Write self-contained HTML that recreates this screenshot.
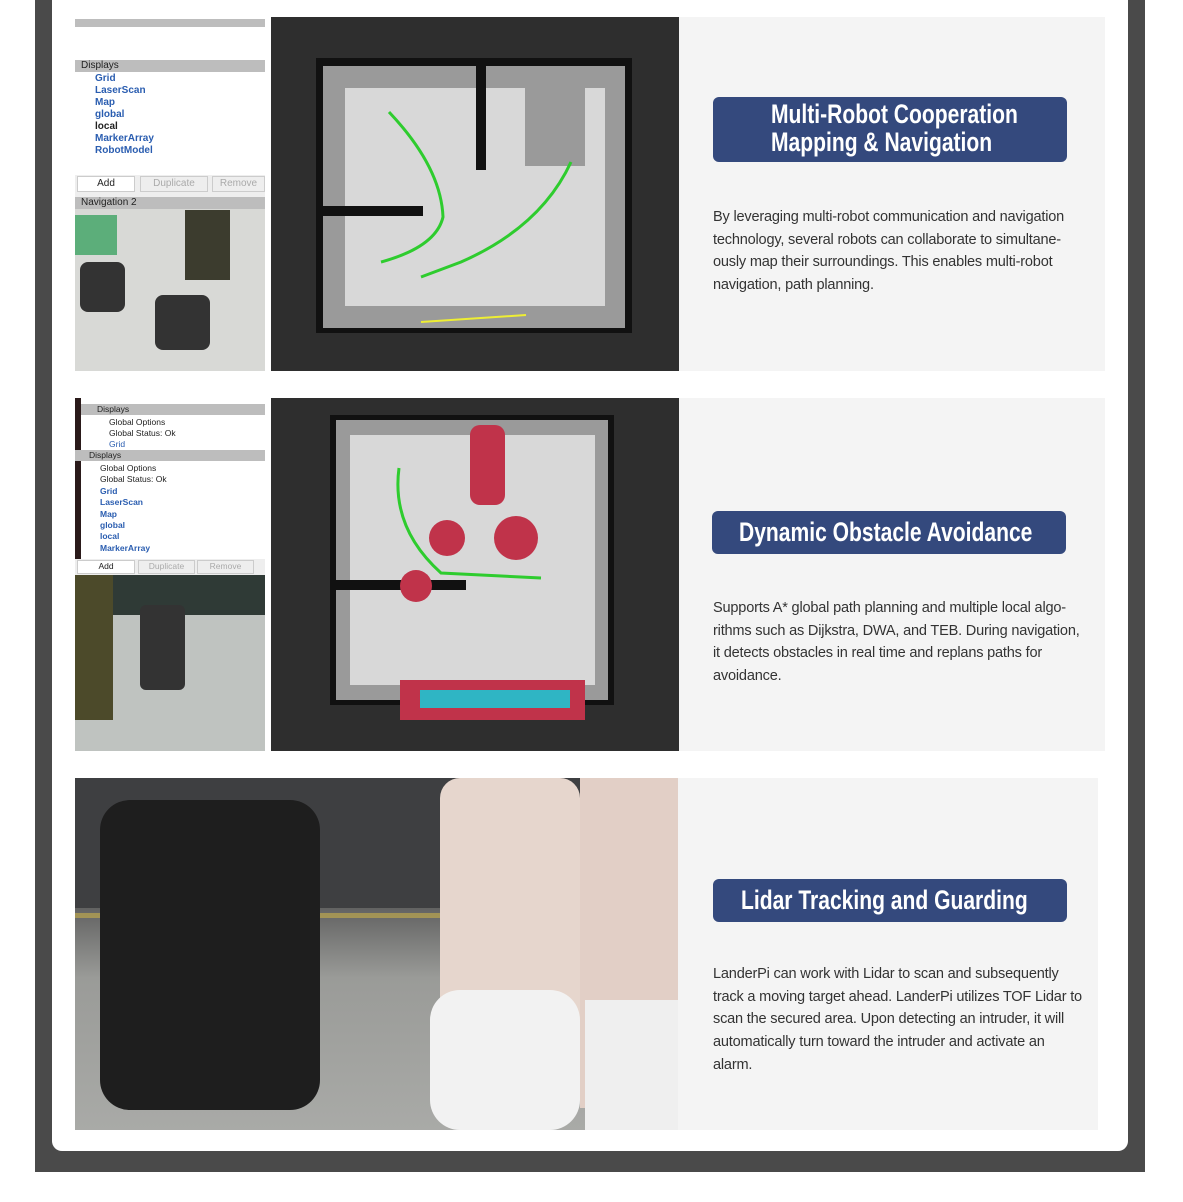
<!DOCTYPE html>
<html><head><meta charset="utf-8"><style>
body{margin:0;width:1183px;height:1202px;background:#fff;position:relative;overflow:hidden;font-family:"Liberation Sans",sans-serif}
.a{position:absolute}
.frame{left:35px;top:0;width:1110px;height:1172px;background:#4a4a4a}
.card{left:52px;top:0;width:1076px;height:1151px;background:#fff;border-radius:0 0 10px 10px}
.panel{background:#f4f4f4}
.title{background:#34497d;border-radius:6px;color:#fff;font-weight:bold;font-size:27px;line-height:28px;white-space:nowrap}
.t{position:absolute;transform:scaleX(0.78);transform-origin:left top}
.txt{color:#333;font-size:15px;line-height:22.7px;white-space:nowrap;transform:scaleX(0.97);transform-origin:left top;letter-spacing:-0.2px}
.map{background:#2e2e2e}
.ui{background:#fff;font-size:10px;color:#2a5db0;font-weight:bold}
.bar{background:#bdbdbd;color:#222;font-weight:normal}
</style></head><body>
<div class="a frame"></div>
<div class="a card"></div>

<!-- Row 1 -->
<div class="a ui" style="left:75px;top:17px;width:190px;height:180px">
 <div class="a bar" style="left:0;top:2px;width:190px;height:8px"></div>
 <div class="a bar" style="left:0;top:43px;width:190px;height:12px;font-size:10px;padding-left:6px;line-height:12px;box-sizing:border-box">Displays</div>
 <div class="a" style="left:20px;top:56px;line-height:12px">Grid<br>LaserScan<br>Map<br>global<br><span style="color:#222">local</span><br>MarkerArray<br>RobotModel</div>
 <div class="a" style="left:0;top:158px;width:190px;height:22px;background:#eee;font-weight:normal;color:#222;font-size:10px">
  <div class="a" style="left:2px;top:1px;width:56px;height:14px;background:#fff;border:1px solid #ccc;text-align:center;line-height:14px">Add</div>
  <div class="a" style="left:65px;top:1px;width:66px;height:14px;border:1px solid #ccc;text-align:center;line-height:14px;color:#aaa">Duplicate</div>
  <div class="a" style="left:137px;top:1px;width:51px;height:14px;border:1px solid #ccc;text-align:center;line-height:14px;color:#aaa;overflow:hidden">Remove</div>
 </div>
</div>
<div class="a bar" style="left:75px;top:197px;width:190px;height:12px;font-size:10px;line-height:12px;padding-left:6px;box-sizing:border-box">Navigation 2</div>
<div class="a" style="left:75px;top:209px;width:190px;height:162px;background:#d8d9d6"></div>
<div class="a" style="left:75px;top:215px;width:42px;height:40px;background:#5cae7a"></div>
<div class="a" style="left:185px;top:210px;width:45px;height:70px;background:#3c3c2e"></div>
<div class="a" style="left:80px;top:262px;width:45px;height:50px;background:#333;border-radius:8px"></div>
<div class="a" style="left:155px;top:295px;width:55px;height:55px;background:#333;border-radius:8px"></div>

<div class="a map" style="left:271px;top:17px;width:408px;height:354px"></div>
<div class="a" style="left:316px;top:58px;width:316px;height:275px;background:#111"></div>
<div class="a" style="left:323px;top:66px;width:302px;height:262px;background:#9a9a9a"></div>
<div class="a" style="left:345px;top:88px;width:260px;height:218px;background:#d8d8d8"></div>
<div class="a" style="left:476px;top:60px;width:10px;height:110px;background:#111"></div>
<div class="a" style="left:323px;top:206px;width:100px;height:10px;background:#111"></div>
<div class="a" style="left:525px;top:66px;width:60px;height:100px;background:#9a9a9a"></div>
<svg class="a" style="left:271px;top:17px" width="408" height="354"><path d="M118 95 Q170 150 172 200 Q165 230 110 245" stroke="#2ecc2e" stroke-width="3" fill="none"/><path d="M300 145 Q270 210 190 245 L150 260" stroke="#2ecc2e" stroke-width="3" fill="none"/><path d="M150 305 L255 298" stroke="#ee3" stroke-width="2"/></svg>
<div class="a panel" style="left:679px;top:17px;width:426px;height:354px"></div>
<div class="a title" style="left:713px;top:97px;width:354px;height:65px"><div class="t" style="left:58px;top:3px">Multi-Robot Cooperation<br>Mapping &amp; Navigation</div></div>
<div class="a txt" style="left:713px;top:206px">By leveraging multi-robot communication and navigation<br>technology, several robots can collaborate to simultane-<br>ously map their surroundings. This enables multi-robot<br>navigation, path planning.</div>

<!-- Row 2 -->
<div class="a ui" style="left:75px;top:398px;width:190px;height:177px;font-size:8.5px">
 <div class="a" style="left:0;top:0;width:6px;height:177px;background:#2a1a1a"></div>
 <div class="a bar" style="left:6px;top:6px;width:184px;height:11px;line-height:11px;padding-left:16px;box-sizing:border-box">Displays</div>
 <div class="a" style="left:34px;top:19px;line-height:11px;color:#222;font-weight:normal">Global Options<br>Global Status: Ok<br><span style="color:#2a5db0">Grid</span></div>
 <div class="a bar" style="left:0;top:52px;width:190px;height:11px;line-height:11px;padding-left:14px;box-sizing:border-box">Displays</div>
 <div class="a" style="left:25px;top:65px;line-height:11.4px"><span style="color:#222;font-weight:normal">Global Options<br>Global Status: Ok</span><br>Grid<br>LaserScan<br>Map<br>global<br>local<br>MarkerArray</div>
 <div class="a" style="left:0;top:161px;width:190px;height:16px;background:#eee;color:#222;font-weight:normal">
  <div class="a" style="left:2px;top:1px;width:56px;height:12px;background:#fff;border:1px solid #ccc;text-align:center">Add</div>
  <div class="a" style="left:63px;top:1px;width:55px;height:12px;border:1px solid #ccc;text-align:center;color:#aaa">Duplicate</div>
  <div class="a" style="left:122px;top:1px;width:55px;height:12px;border:1px solid #ccc;text-align:center;color:#aaa">Remove</div>
 </div>
</div>
<div class="a" style="left:75px;top:575px;width:190px;height:176px;background:#bfc3c0"></div>
<div class="a" style="left:75px;top:575px;width:190px;height:40px;background:#2f3a36"></div>
<div class="a" style="left:75px;top:575px;width:38px;height:145px;background:#4c4a2a"></div>
<div class="a" style="left:140px;top:605px;width:45px;height:85px;background:#333;border-radius:6px"></div>

<div class="a map" style="left:271px;top:398px;width:408px;height:353px"></div>
<div class="a" style="left:330px;top:415px;width:284px;height:290px;background:#111"></div>
<div class="a" style="left:336px;top:420px;width:272px;height:280px;background:#9a9a9a"></div>
<div class="a" style="left:350px;top:435px;width:245px;height:250px;background:#d8d8d8"></div>
<div class="a" style="left:336px;top:580px;width:130px;height:10px;background:#111"></div>
<div class="a" style="left:400px;top:680px;width:185px;height:40px;background:#c0334a"></div>
<div class="a" style="left:420px;top:690px;width:150px;height:18px;background:#2fb5c4"></div>
<div class="a" style="left:470px;top:425px;width:35px;height:80px;background:#c0334a;border-radius:10px"></div>
<svg class="a" style="left:271px;top:398px" width="408" height="353"><circle cx="176" cy="140" r="18" fill="#c0334a"/><circle cx="245" cy="140" r="22" fill="#c0334a"/><circle cx="145" cy="188" r="16" fill="#c0334a"/><path d="M128 70 Q120 130 170 175 L270 180" stroke="#2ecc2e" stroke-width="3" fill="none"/></svg>
<div class="a panel" style="left:679px;top:398px;width:426px;height:353px"></div>
<div class="a title" style="left:712px;top:511px;width:354px;height:43px"><div class="t" style="left:27px;top:7px">Dynamic Obstacle Avoidance</div></div>
<div class="a txt" style="left:713px;top:597px">Supports A* global path planning and multiple local algo-<br>rithms such as Dijkstra, DWA, and TEB. During navigation,<br>it detects obstacles in real time and replans paths for<br>avoidance.</div>

<!-- Row 3 -->
<div class="a" style="left:75px;top:778px;width:603px;height:352px;background:linear-gradient(#4b4b4b 0,#5a5a5a 120px,#9a9b98 200px,#a9aaa7 352px)"></div>
<div class="a" style="left:75px;top:778px;width:603px;height:130px;background:#3e3f41"></div>
<div class="a" style="left:75px;top:913px;width:603px;height:5px;background:#c9b04a;opacity:.6"></div>
<div class="a" style="left:100px;top:800px;width:220px;height:310px;background:#1e1e1e;border-radius:30px"></div>
<div class="a" style="left:440px;top:778px;width:140px;height:330px;background:#e6d6cd;border-radius:20px"></div>
<div class="a" style="left:580px;top:778px;width:98px;height:330px;background:#e2cfc6"></div>
<div class="a" style="left:430px;top:990px;width:150px;height:140px;background:#f2f2f2;border-radius:30px"></div>
<div class="a" style="left:585px;top:1000px;width:93px;height:130px;background:#efefef"></div>
<div class="a panel" style="left:678px;top:778px;width:420px;height:352px"></div>
<div class="a title" style="left:713px;top:879px;width:354px;height:43px"><div class="t" style="left:28px;top:7px">Lidar Tracking and Guarding</div></div>
<div class="a txt" style="left:713px;top:963px">LanderPi can work with Lidar to scan and subsequently<br>track a moving target ahead. LanderPi utilizes TOF Lidar to<br>scan the secured area. Upon detecting an intruder, it will<br>automatically turn toward the intruder and activate an<br>alarm.</div>
</body></html>
